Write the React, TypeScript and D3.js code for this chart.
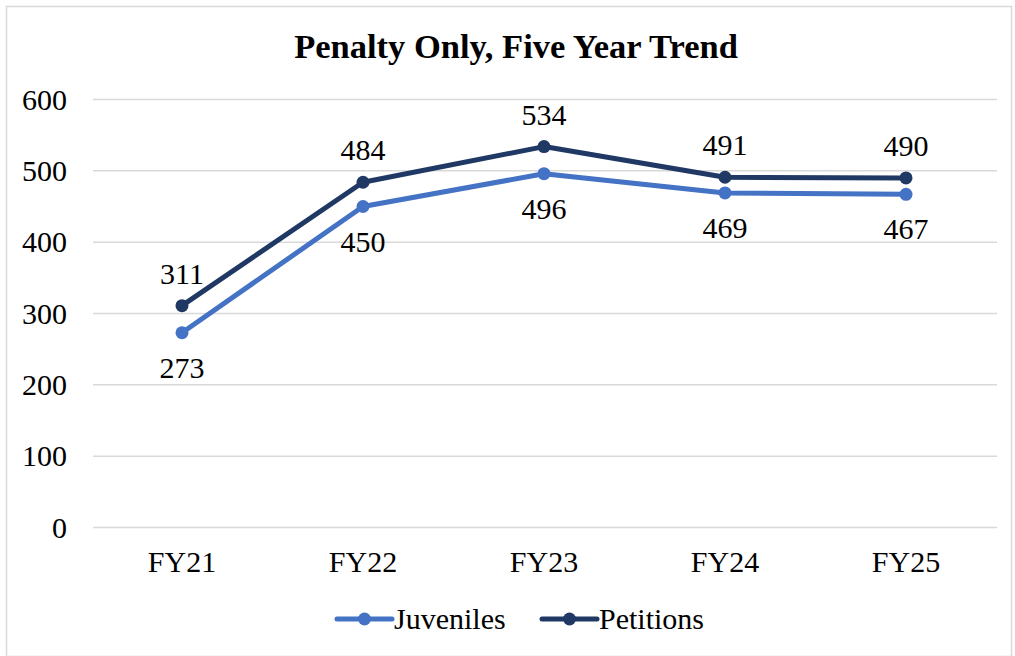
import React from "react";
import * as d3 from "d3";

const categories = ["FY21", "FY22", "FY23", "FY24", "FY25"];
const juveniles = [273, 450, 496, 469, 467];
const petitions = [311, 484, 534, 491, 490];
const yTicks = [0, 100, 200, 300, 400, 500, 600];

const W = 1015;
const H = 656;
const FONT = "'Liberation Serif', 'Times New Roman', serif";
const C_JUV = "#4472C4";
const C_PET = "#203864";
const FS = 30;

export default function App() {
  const x = d3.scalePoint<string>().domain(categories).range([182, 906]);
  const y = d3.scaleLinear().domain([0, 600]).range([527.5, 99.5]);
  const line = d3
    .line<number>()
    .x((_, i) => x(categories[i]) as number)
    .y((d) => y(d));

  const series = [
    { name: "Juveniles", values: juveniles, color: C_JUV, dy: 45 },
    { name: "Petitions", values: petitions, color: C_PET, dy: -22 },
  ];

  return (
    <svg
      width={W}
      height={H}
      style={{ position: "absolute", left: 0, top: 0 }}
      fontFamily={FONT}
    >
      <rect x={0} y={0} width={W} height={H} fill="#fff" />
      <rect x={6.5} y={6.5} width={1005} height={650} fill="none" stroke="#d9d9d9" strokeWidth={1.5} />
      <text x={516} y={58} textAnchor="middle" fontSize={34.5} fontWeight="bold" fill="#000">
        Penalty Only, Five Year Trend
      </text>
      {yTicks.map((t) => (
        <g key={t}>
          <line x1={93} x2={997} y1={y(t)} y2={y(t)} stroke="#d9d9d9" strokeWidth={1.5} />
          <text x={67} y={y(t) + 10} textAnchor="end" fontSize={FS} fill="#000">
            {t}
          </text>
        </g>
      ))}
      {categories.map((c) => (
        <text key={c} x={x(c)} y={572} textAnchor="middle" fontSize={FS} fill="#000">
          {c}
        </text>
      ))}
      {series.map((s) => (
        <g key={s.name}>
          <path d={line(s.values) || ""} fill="none" stroke={s.color} strokeWidth={5} strokeLinejoin="round" strokeLinecap="round" />
          {s.values.map((v, i) => (
            <g key={i}>
              <circle cx={x(categories[i])} cy={y(v)} r={6.5} fill={s.color} />
              <text x={x(categories[i])} y={y(v) + s.dy} textAnchor="middle" fontSize={FS} fill="#000">
                {v}
              </text>
            </g>
          ))}
        </g>
      ))}
      {series.map((s, i) => {
        const x0 = i === 0 ? 337 : 542;
        const ly = 619;
        return (
          <g key={s.name}>
            <line x1={x0} x2={x0 + 55} y1={ly} y2={ly} stroke={s.color} strokeWidth={5} strokeLinecap="round" />
            <circle cx={x0 + 27.5} cy={ly} r={6.5} fill={s.color} />
            <text x={x0 + 57} y={ly + 10} fontSize={FS} fill="#000">
              {s.name}
            </text>
          </g>
        );
      })}
    </svg>
  );
}
